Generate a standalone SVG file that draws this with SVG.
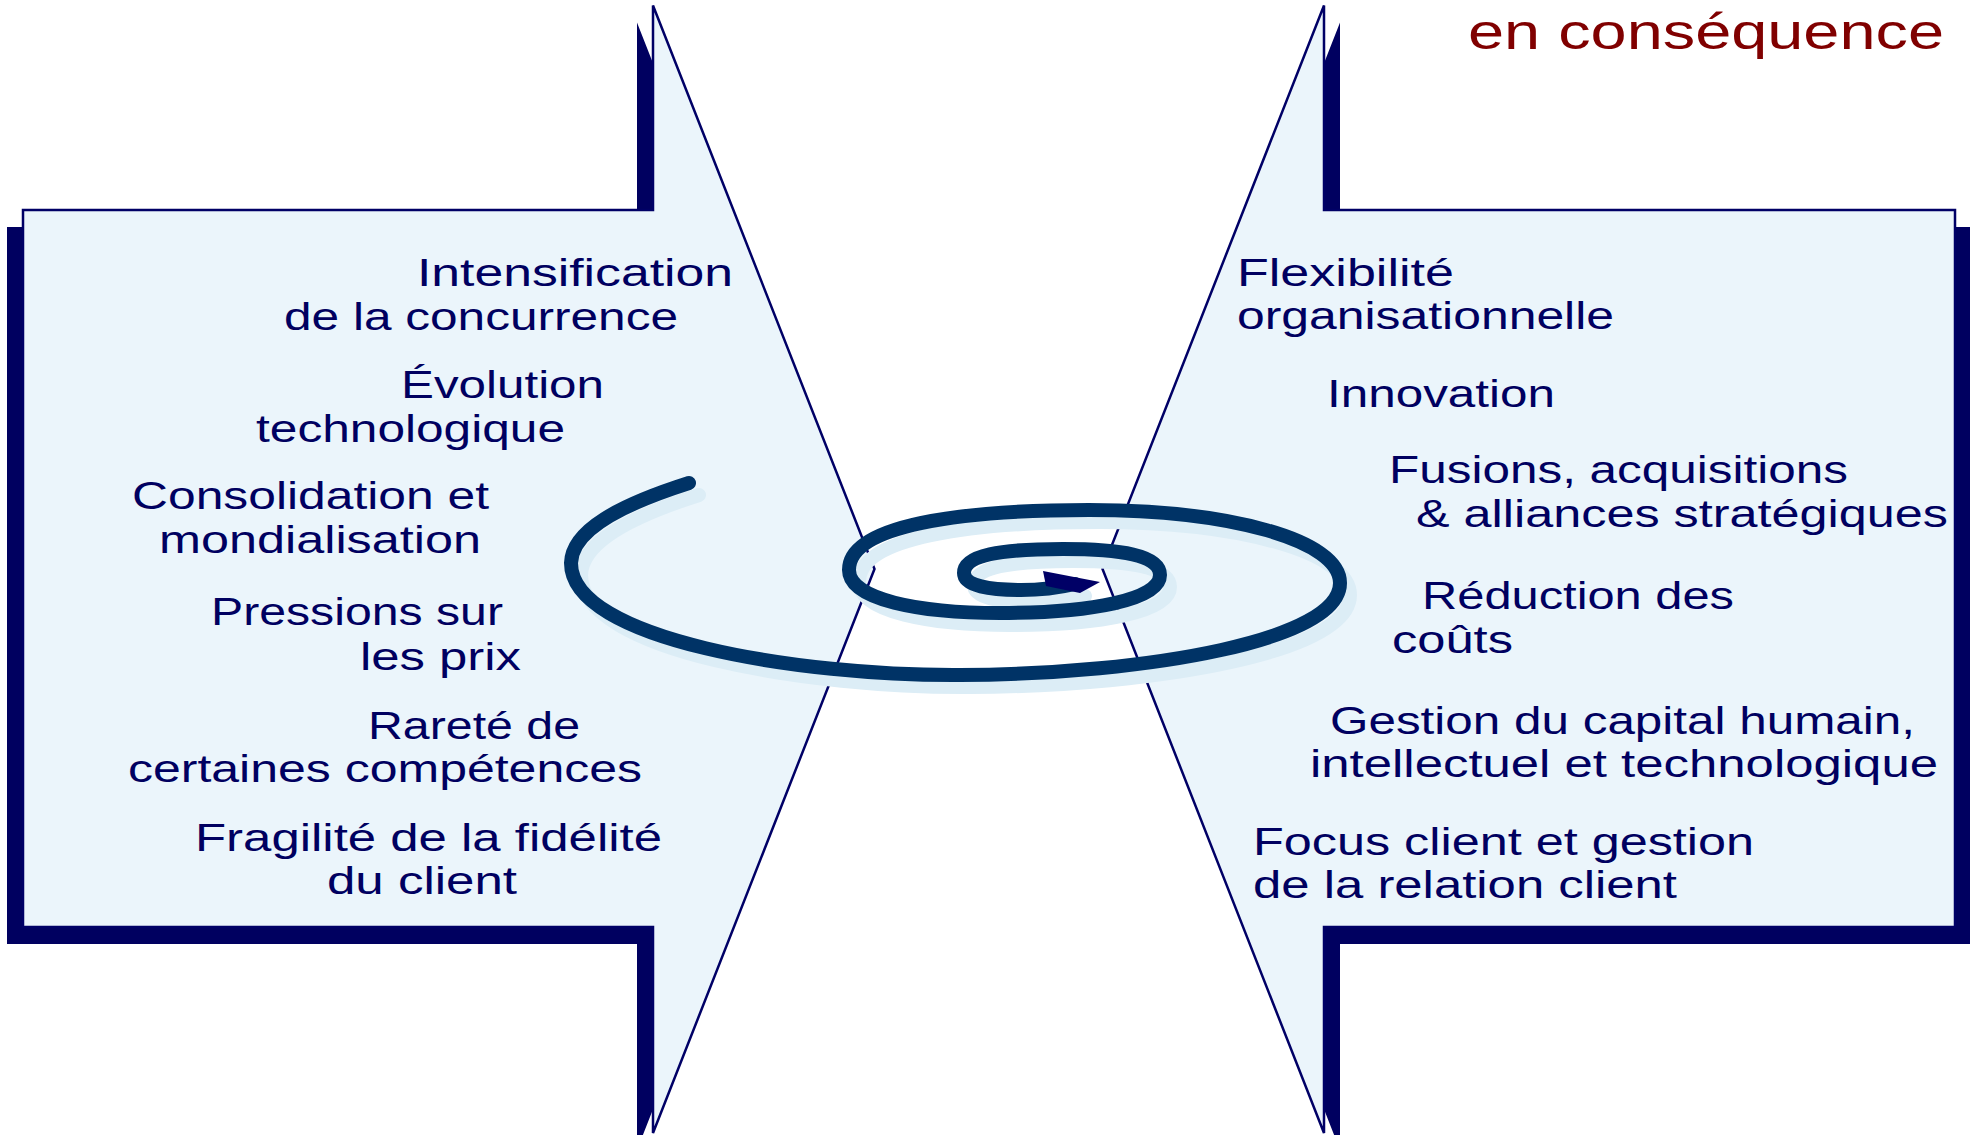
<svg xmlns="http://www.w3.org/2000/svg" width="1970" height="1135" viewBox="0 0 1970 1135">
<style>
.shadow{fill:#000060}
.panel{fill:#EBF5FB;stroke:#000066;stroke-width:2.5;stroke-linejoin:miter}
.t{font-family:"Liberation Sans",Arial,sans-serif;font-size:38px;fill:#000060}
.title{font-family:"Liberation Sans",Arial,sans-serif;font-size:50px;fill:#800000}
.sp{fill:none;stroke:#003366;stroke-width:14;stroke-linecap:round;stroke-linejoin:round}
.sps{fill:none;stroke:#DCEDF6;stroke-width:14;stroke-linecap:round;stroke-linejoin:round}
.head{fill:#000066}
</style>
<defs>
<path id="leftShape" d="M23,210 L653,210 L653,5.5 L874.5,569 L653,1133 L653,927 L23,927 Z"/>
<path id="rightShape" d="M1955,210 L1324,210 L1324,5.5 L1102.5,569 L1324,1133 L1324,927 L1955,927 Z"/>
<path id="spiralPath" d="M689,483 C620,505 572,530 571,563 C571,640 800,676 960,675 C1150,674 1340,640 1340,583 C1340,540 1230,510 1089,510 C960,510 849,525 849,570 C849,600 920,613 1000,613 C1090,613 1160,600 1160,575 C1160,555 1120,549 1063,549 C1000,549 964,555 964,573 C964,586 990,590 1021,590 C1045,590 1062,587 1075,584"/>
</defs>

<g id="title">
<text class="title" x="1468" y="49" textLength="476" lengthAdjust="spacingAndGlyphs">en conséquence</text>
</g>

<g id="left-panel">
<use href="#leftShape" class="shadow" transform="translate(-16,17)"/>
<use href="#leftShape" class="panel"/>
<text class="t" x="417" y="286" textLength="316" lengthAdjust="spacingAndGlyphs">Intensification</text>
<text class="t" x="284" y="330" textLength="394" lengthAdjust="spacingAndGlyphs">de la concurrence</text>
<text class="t" x="401" y="398" textLength="203" lengthAdjust="spacingAndGlyphs">Évolution</text>
<text class="t" x="256" y="442" textLength="309" lengthAdjust="spacingAndGlyphs">technologique</text>
<text class="t" x="132" y="509" textLength="357" lengthAdjust="spacingAndGlyphs">Consolidation et</text>
<text class="t" x="159" y="553" textLength="322" lengthAdjust="spacingAndGlyphs">mondialisation</text>
<text class="t" x="211" y="625" textLength="292" lengthAdjust="spacingAndGlyphs">Pressions sur</text>
<text class="t" x="360" y="670" textLength="161" lengthAdjust="spacingAndGlyphs">les prix</text>
<text class="t" x="368" y="739" textLength="212" lengthAdjust="spacingAndGlyphs">Rareté de</text>
<text class="t" x="128" y="782" textLength="514" lengthAdjust="spacingAndGlyphs">certaines compétences</text>
<text class="t" x="195" y="851" textLength="467" lengthAdjust="spacingAndGlyphs">Fragilité de la fidélité</text>
<text class="t" x="327" y="894" textLength="190" lengthAdjust="spacingAndGlyphs">du client</text>
</g>

<g id="right-panel">
<use href="#rightShape" class="shadow" transform="translate(16,17)"/>
<use href="#rightShape" class="panel"/>
<text class="t" x="1237" y="286" textLength="217" lengthAdjust="spacingAndGlyphs">Flexibilité</text>
<text class="t" x="1237" y="329" textLength="377" lengthAdjust="spacingAndGlyphs">organisationnelle</text>
<text class="t" x="1327" y="407" textLength="228" lengthAdjust="spacingAndGlyphs">Innovation</text>
<text class="t" x="1389" y="483" textLength="459" lengthAdjust="spacingAndGlyphs">Fusions, acquisitions</text>
<text class="t" x="1416" y="527" textLength="532" lengthAdjust="spacingAndGlyphs">&amp; alliances stratégiques</text>
<text class="t" x="1422" y="609" textLength="312" lengthAdjust="spacingAndGlyphs">Réduction des</text>
<text class="t" x="1392" y="653" textLength="121" lengthAdjust="spacingAndGlyphs">coûts</text>
<text class="t" x="1330" y="734" textLength="585" lengthAdjust="spacingAndGlyphs">Gestion du capital humain,</text>
<text class="t" x="1310" y="777" textLength="628" lengthAdjust="spacingAndGlyphs">intellectuel et technologique</text>
<text class="t" x="1253" y="855" textLength="501" lengthAdjust="spacingAndGlyphs">Focus client et gestion</text>
<text class="t" x="1253" y="898" textLength="424" lengthAdjust="spacingAndGlyphs">de la relation client</text>
</g>

<g id="connectors">
<use href="#spiralPath" class="sps" transform="translate(10,12)"/>
<use href="#spiralPath" class="sp"/>
<polygon class="head" points="1043,571 1100,582 1080,593 1046,586"/>
</g>
</svg>
